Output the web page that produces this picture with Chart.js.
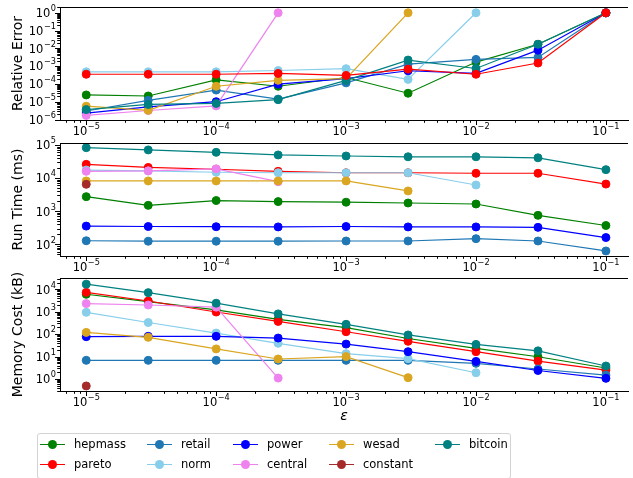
<!DOCTYPE html>
<html>
<head>
<meta charset="utf-8">
<script src="https://cdn.jsdelivr.net/npm/chart.js@4.4.1/dist/chart.umd.min.js"></script>
<style>
  html, body { margin: 0; padding: 0; background: #fff; }
  #wrap { position: relative; width: 633px; height: 478px; overflow: hidden; font-family: 'DejaVu Sans', sans-serif; background: #fff; }
  #wrap canvas { position: absolute; left: 0; top: 0; }
  #legendBox { position: absolute; left: 37px; top: 433px; width: 472px; height: 44px; border: 1px solid #d3d3d3; border-radius: 3px; background: rgba(255,255,255,0.8); }
  .item { position: absolute; height: 14px; font-size: 11.5px; line-height: 14px; color: #000; white-space: nowrap; }
  .item .ln { position: absolute; left: 0; top: 6.5px; width: 25px; height: 1.3px; }
  .item .dot { position: absolute; left: 8px; top: 2.5px; width: 9px; height: 9px; border-radius: 50%; }
  .item .tx { position: absolute; left: 34px; top: 0; }
</style>
</head>
<body>
<div id="wrap">
  <canvas id="errChart" width="633" height="478"></canvas>
  <canvas id="timeChart" width="633" height="478"></canvas>
  <canvas id="memChart" width="633" height="478"></canvas>
  <div id="legendBox"></div>
</div>
<script>
// error bound values on the shared x axis
const epsilon = [1e-5, 3e-5, 1e-4, 3e-4, 1e-3, 3e-3, 1e-2, 3e-2, 1e-1];
const seriesNames = ['hepmass', 'pareto', 'retail', 'norm', 'power', 'central', 'wesad', 'constant', 'bitcoin'];

// tick exponents (labels 10^e)
const xTickExps = [-5, -4, -3, -2, -1];
const errTickExps = [-6, -5, -4, -3, -2, -1, 0];
const timeTickExps = [2, 3, 4, 5];
const memTickExps = [0, 1, 2, 3, 4];

// Relative Error
const errHepmass  = [2.4e-5, 2.1e-5, 1.7e-4, 7.4e-5, 2.3e-4, 3.0e-5, 1.7e-3, 1.7e-2, 1];
const errPareto   = [3.5e-4, 3.5e-4, 3.5e-4, 3.9e-4, 3.0e-4, 6.8e-4, 3.5e-4, 1.5e-3, 1];
const errRetail   = [3.0e-6, 1.2e-5, 4.5e-5, 1.4e-5, 1.15e-4, 1.3e-3, 2.4e-3, 3.1e-3, 1];
const errNorm     = [4.8e-4, 4.8e-4, 4.8e-4, 5.7e-4, 7.2e-4, 1.8e-4, 1, null, null];
const errPower    = [2.3e-6, 5.1e-6, 1.0e-5, 9.7e-5, 2.0e-4, 5.5e-4, 3.9e-4, 7.9e-3, 1];
const errCentral  = [1.7e-6, 3.2e-6, 5.8e-6, 1, null, null, null, null, null];
const errWesad    = [5.6e-6, 3.3e-6, 7.4e-5, 1.6e-4, 2.0e-4, 1, null, null, null];
const errConstant = [null, null, null, null, null, null, null, null, null];
const errBitcoin  = [3.6e-6, 7.0e-6, 8.0e-6, 1.3e-5, 1.6e-4, 2.2e-3, 7.4e-4, 1.7e-2, 1];

// Run Time (ms)
const timeHepmass  = [2750, 1500, 2100, 1950, 1870, 1770, 1650, 750, 370];
const timePareto   = [26000, 21000, 18500, 16000, 14500, 14500, 14000, 14000, 6600];
const timeRetail   = [128, 124, 124, 124, 126, 126, 148, 126, 63];
const timeNorm     = [17500, 16500, 15000, 14500, 14500, 14500, 6200, null, null];
const timePower    = [355, 345, 340, 335, 345, 335, 335, 325, 160];
const timeCentral  = [16000, 16500, 19000, 7800, null, null, null, null, null];
const timeWesad    = [8200, 8200, 8200, 8200, 8200, 4100, null, null, null];
const timeConstant = [6500, null, null, null, null, null, null, null, null];
const timeBitcoin  = [83000, 71000, 60000, 50000, 46500, 44000, 44000, 41000, 18000];

// Memory Cost (kB)
const memHepmass  = [6000, 2800, 1200, 460, 195, 64, 23, 9.8, 3.1];
const memPareto   = [7300, 3000, 970, 370, 128, 48, 16.5, 6.3, 2.5];
const memRetail   = [6.8, 6.8, 6.8, 6.8, 6.8, 6.8, 5.0, 2.8, 1.5];
const memNorm     = [940, 330, 112, 39, 13.5, 8.1, 1.9, null, null];
const memPower    = [77, 80, 80, 67, 36, 16.5, 6.1, 2.4, 1.07];
const memCentral  = [2300, 2000, 1600, 1.1, null, null, null, null, null];
const memWesad    = [120, 72, 22, 7.8, 10, 1.15, null, null, null];
const memConstant = [0.49, null, null, null, null, null, null, null, null];
const memBitcoin  = [17000, 7100, 2400, 800, 275, 92, 35, 18, 3.8];

const colors = {
  hepmass: '#008000', pareto: '#ff0000', retail: '#1f77b4', norm: '#87ceeb', power: '#0000ff',
  central: '#ee82ee', wesad: '#daa520', constant: '#a52a2a', bitcoin: '#008080'
};

const FONT = 'DejaVu Sans';
const BASE_PX = 11.5;
const SUP_PX = 8.2;

// draws "10" with a raised exponent; anchor 'center' or 'right'
function drawPow(ctx, x, baseline, exp, anchor) {
  const e = String(exp).replace('-', '\u2212');
  ctx.font = BASE_PX + 'px "' + FONT + '"';
  const wBase = ctx.measureText('10').width;
  ctx.font = SUP_PX + 'px "' + FONT + '"';
  const wSup = ctx.measureText(e).width;
  const total = wBase + 0.5 + wSup;
  const left = anchor === 'center' ? x - total / 2 : x - total;
  ctx.textAlign = 'left';
  ctx.textBaseline = 'alphabetic';
  ctx.fillStyle = '#000';
  ctx.font = BASE_PX + 'px "' + FONT + '"';
  ctx.fillText('10', left, baseline);
  ctx.font = SUP_PX + 'px "' + FONT + '"';
  ctx.fillText(e, left + wBase + 0.5, baseline - 6);
}

// frame: top spine, major/minor log tick marks (outward) and power-of-ten labels
const frame = {
  id: 'frame',
  afterDatasetsDraw(chart) {
    const { ctx, chartArea: a, scales } = chart;
    ctx.save();
    ctx.strokeStyle = '#000';
    ctx.lineWidth = 1;
    ctx.beginPath();
    ctx.moveTo(a.left, a.top + 0.5);
    ctx.lineTo(a.right, a.top + 0.5);
    ctx.stroke();
    const marks = (scale, horizontal) => {
      const lo = Math.log10(scale.min), hi = Math.log10(scale.max);
      for (let d = Math.floor(lo); d <= Math.ceil(hi); d++) {
        for (let k = 1; k <= 9; k++) {
          const v = k * Math.pow(10, d);
          const lv = Math.log10(v);
          if (lv < lo || lv > hi) continue;
          const len = k === 1 ? 5 : 2.8;
          const p = Math.round(scale.getPixelForValue(v)) + 0.5;
          ctx.beginPath();
          if (horizontal) { ctx.moveTo(p, a.bottom); ctx.lineTo(p, a.bottom + len); }
          else { ctx.moveTo(a.left - len, p); ctx.lineTo(a.left, p); }
          ctx.stroke();
        }
      }
    };
    marks(scales.x, true);
    marks(scales.y, false);
    scales.x.ticks.forEach(t => {
      drawPow(ctx, scales.x.getPixelForValue(t.value), a.bottom + 15, Math.round(Math.log10(t.value)), 'center');
    });
    scales.y.ticks.forEach(t => {
      drawPow(ctx, a.left - 4, scales.y.getPixelForValue(t.value) + 4.3, Math.round(Math.log10(t.value)), 'right');
    });
    ctx.restore();
  }
};

function makePanel(id, values, yRange, yTickExps, yTitle, area, withXTitle, topName) {
  const xH = withXTitle ? 35 : 20;
  const datasets = seriesNames.map((name, i) => ({
    label: name,
    data: epsilon.map((e, j) => ({ x: e, y: values[i][j] })),
    borderColor: colors[name],
    backgroundColor: colors[name],
    pointBackgroundColor: colors[name],
    pointBorderColor: colors[name],
    borderWidth: 1.2,
    pointRadius: 4,
    pointBorderWidth: 1,
    tension: 0,
    spanGaps: false,
    order: name === topName ? -1 : seriesNames.length - 1 - i
  }));
  return new Chart(document.getElementById(id), {
    type: 'line',
    data: { datasets },
    plugins: [frame],
    options: {
      responsive: false,
      animation: false,
      devicePixelRatio: 1,
      layout: { padding: { top: area.top, left: 0, right: 0, bottom: 478 - area.bottom - xH } },
      plugins: { legend: { display: false }, tooltip: { enabled: false } },
      scales: {
        x: {
          type: 'logarithmic', position: 'bottom',
          min: Math.pow(10, -5.202), max: Math.pow(10, -0.83),
          grid: { display: false, drawTicks: false },
          border: { display: true, color: '#000', width: 1 },
          ticks: { display: false, autoSkip: false },
          afterBuildTicks: s => { s.ticks = xTickExps.map(e => ({ value: Math.pow(10, e) })); },
          afterFit: s => { s.height = xH; },
          title: withXTitle
            ? { display: true, text: '\u03B5', color: '#000', font: { family: FONT, size: 14, style: 'italic' }, padding: { top: 0, bottom: 1 } }
            : { display: false }
        },
        y: {
          type: 'logarithmic', position: 'left',
          min: Math.pow(10, yRange[0]), max: Math.pow(10, yRange[1]),
          grid: { display: false, drawTicks: false },
          border: { display: true, color: '#000', width: 1 },
          ticks: { display: false, autoSkip: false },
          afterBuildTicks: s => { s.ticks = yTickExps.map(e => ({ value: Math.pow(10, e) })); },
          afterFit: s => { s.width = 60; },
          title: { display: true, text: yTitle, color: '#000', font: { family: FONT, size: 14 }, padding: { top: 10, bottom: 0 } }
        }
      }
    }
  });
}

makePanel('errChart',
  [errHepmass, errPareto, errRetail, errNorm, errPower, errCentral, errWesad, errConstant, errBitcoin],
  [-6.028, 0.326], errTickExps, 'Relative Error', { top: 7, bottom: 120 }, false, 'pareto');
makePanel('timeChart',
  [timeHepmass, timePareto, timeRetail, timeNorm, timePower, timeCentral, timeWesad, timeConstant, timeBitcoin],
  [1.647, 5.06], timeTickExps, 'Run Time (ms)', { top: 143, bottom: 256 }, false, null);
makePanel('memChart',
  [memHepmass, memPareto, memRetail, memNorm, memPower, memCentral, memWesad, memConstant, memBitcoin],
  [-0.535, 4.504], memTickExps, 'Memory Cost (kB)', { top: 278, bottom: 391 }, true, null);

// legend: five columns, filled column by column
const wrap = document.getElementById('wrap');
const colX = [40, 147, 233, 329, 435];
const rowY = [437, 457];
seriesNames.forEach((name, i) => {
  const col = Math.floor(i / 2), row = i % 2;
  const el = document.createElement('div');
  el.className = 'item';
  el.style.left = colX[col] + 'px';
  el.style.top = rowY[row] + 'px';
  el.innerHTML = '<div class="ln" style="background:' + colors[name] + '"></div>' +
    '<div class="dot" style="background:' + colors[name] + '"></div>' +
    '<span class="tx">' + name + '</span>';
  wrap.appendChild(el);
});
</script>
</body>
</html>
